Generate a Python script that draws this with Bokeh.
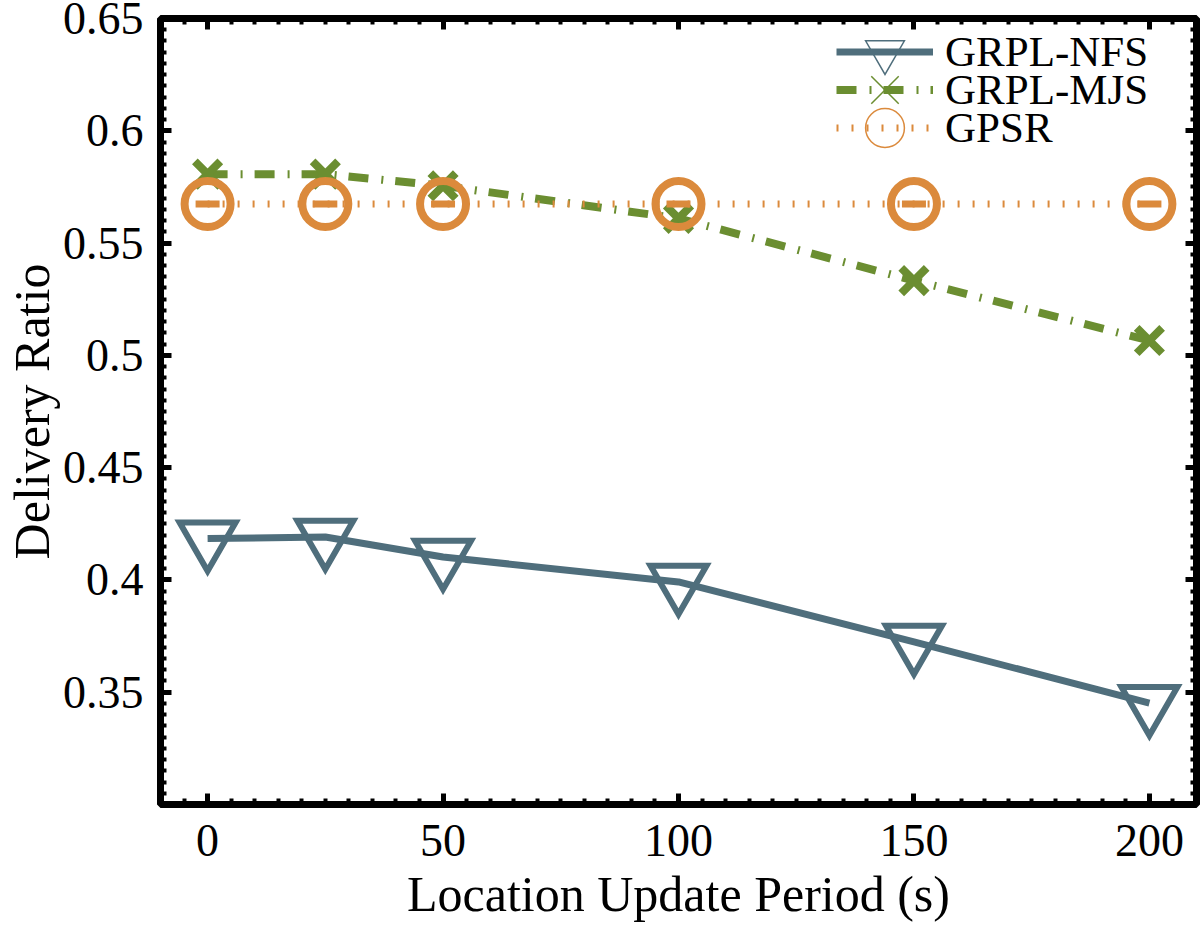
from bokeh.plotting import figure
from bokeh.models import Range1d, FixedTicker, LinearAxis, Legend, LegendItem, ColumnDataSource
from bokeh.embed import file_html
from bokeh.resources import INLINE

# ---- data ----
x_period = [0, 25, 50, 100, 150, 200]
nfs = [0.4184, 0.4191, 0.4102, 0.3991, 0.3724, 0.3451]
mjs = [0.5807, 0.5807, 0.5755, 0.5610, 0.5333, 0.5066]
gpsr = [0.5674, 0.5674, 0.5674, 0.5674, 0.5674, 0.5674]
series_names = ["GRPL-NFS", "GRPL-MJS", "GPSR"]

x_ticks = [0, 50, 100, 150, 200]
x_tick_labels = ["0", "50", "100", "150", "200"]
y_ticks = [0.35, 0.4, 0.45, 0.5, 0.55, 0.6, 0.65]
y_tick_labels = ["0.35", "0.4", "0.45", "0.5", "0.55", "0.6", "0.65"]
x_label = "Location Update Period (s)"
y_label = "Delivery Ratio"

# ---- style ----
C_NFS = "#4F6E7C"
C_MJS = "#6B8E31"
C_GPSR = "#DB8A3C"
FONT = "Liberation Serif"
X0, X1 = -10, 210
Y0, Y1 = 0.30, 0.65

x_minor = [v for v in range(X0, X1 + 1, 5) if v not in x_ticks]
y_minor = [round(Y0 + 0.005 * i, 3) for i in range(71)]
y_minor = [v for v in y_minor if v not in y_ticks]

W, H = 1200, 927
p = figure(width=W, height=H, x_range=Range1d(X0, X1), y_range=Range1d(Y0, Y1),
           output_backend="svg", toolbar_location=None,
           min_border_left=159, min_border_right=4, min_border_top=18, min_border_bottom=123)
p.xaxis.visible = False
p.yaxis.visible = False
p.grid.visible = False
p.outline_line_color = "black"
p.outline_line_width = 7
p.background_fill_color = "white"
p.border_fill_color = "white"

xt = FixedTicker(ticks=x_ticks, minor_ticks=x_minor)
yt = FixedTicker(ticks=y_ticks, minor_ticks=y_minor)


def style_axis(ax):
    ax.axis_line_color = None
    ax.major_tick_in = 11
    ax.major_tick_out = 0
    ax.major_tick_line_width = 5
    ax.major_tick_line_color = "black"
    ax.minor_tick_in = 6
    ax.minor_tick_out = 0
    ax.minor_tick_line_width = 4
    ax.minor_tick_line_color = "black"
    ax.major_label_text_font = FONT
    ax.major_label_text_font_size = "46px"
    ax.major_label_text_color = "black"
    ax.axis_label_text_font = FONT
    ax.axis_label_text_font_size = "50px"
    ax.axis_label_text_font_style = "normal"
    ax.axis_label_text_color = "black"


bottom = LinearAxis(ticker=xt, axis_label=x_label,
                    major_label_overrides=dict(zip(x_ticks, x_tick_labels)))
style_axis(bottom)
bottom.major_label_standoff = 20
bottom.axis_label_standoff = 7
p.add_layout(bottom, "below")

left = LinearAxis(ticker=yt, axis_label=y_label,
                  major_label_overrides=dict(zip(y_ticks, y_tick_labels)))
style_axis(left)
left.major_label_standoff = 17
left.axis_label_standoff = 0
p.add_layout(left, "left")

top = LinearAxis(ticker=xt, major_label_overrides={t: "" for t in x_ticks})
style_axis(top)
top.major_label_text_font_size = "1px"
top.major_label_standoff = 0
p.add_layout(top, "above")

right = LinearAxis(ticker=yt, major_label_overrides={t: "" for t in y_ticks})
style_axis(right)
right.major_label_text_font_size = "1px"
right.major_label_standoff = 0
p.add_layout(right, "right")

# ---- series ----
src = ColumnDataSource(dict(x=x_period, nfs=nfs, mjs=mjs, gpsr=gpsr))

l_nfs = p.line("x", "nfs", source=src, line_color=C_NFS, line_width=7)
p.scatter("x", "nfs", source=src, marker="inverted_triangle", size=56, fill_color=None,
          line_color=C_NFS, line_width=6, line_join="miter")

l_mjs = p.line("x", "mjs", source=src, line_color=C_MJS, line_width=8,
               line_dash="20 13 2 12")
p.scatter("x", "mjs", source=src, marker="x", size=36, line_color=C_MJS, line_width=8)

l_gpsr = p.line("x", "gpsr", source=src, line_color=C_GPSR, line_width=7, line_dash="2 13")
p.scatter("x", "gpsr", source=src, marker="circle", size=46, fill_color=None,
          line_color=C_GPSR, line_width=8)
p.scatter("x", "gpsr", source=src, marker="dash", size=24, line_color=C_GPSR, line_width=7)

# thin-outline markers for the legend only (zero size in the plot itself)
lg_nfs = p.scatter("x", "nfs", source=src, marker="inverted_triangle", size=0,
                   fill_color=None, line_color=C_NFS, line_width=1.5, line_join="miter")
lg_mjs = p.scatter("x", "mjs", source=src, marker="x", size=0,
                   line_color=C_MJS, line_width=1.5)
lg_gpsr = p.scatter("x", "gpsr", source=src, marker="circle", size=0,
                    fill_color=None, line_color=C_GPSR, line_width=1.5)

row_renderers = [[l_nfs, lg_nfs], [l_mjs, lg_mjs], [l_gpsr, lg_gpsr]]
row_bottoms = [704, 666, 628]   # legend rows, screen px above frame bottom
for name, rends, yb in zip(series_names, row_renderers, row_bottoms):
    lg = Legend(items=[LegendItem(label=name, renderers=rends)], location=(676, yb))
    lg.background_fill_alpha = 0
    lg.border_line_color = None
    lg.padding = 0
    lg.margin = 0
    lg.spacing = 0
    lg.glyph_height = 97
    lg.glyph_width = 97
    lg.label_standoff = 12
    lg.label_text_font = FONT
    lg.label_text_font_size = "43px"
    lg.label_text_color = "black"
    p.add_layout(lg)

open("out.html", "w").write(file_html(p, INLINE))
